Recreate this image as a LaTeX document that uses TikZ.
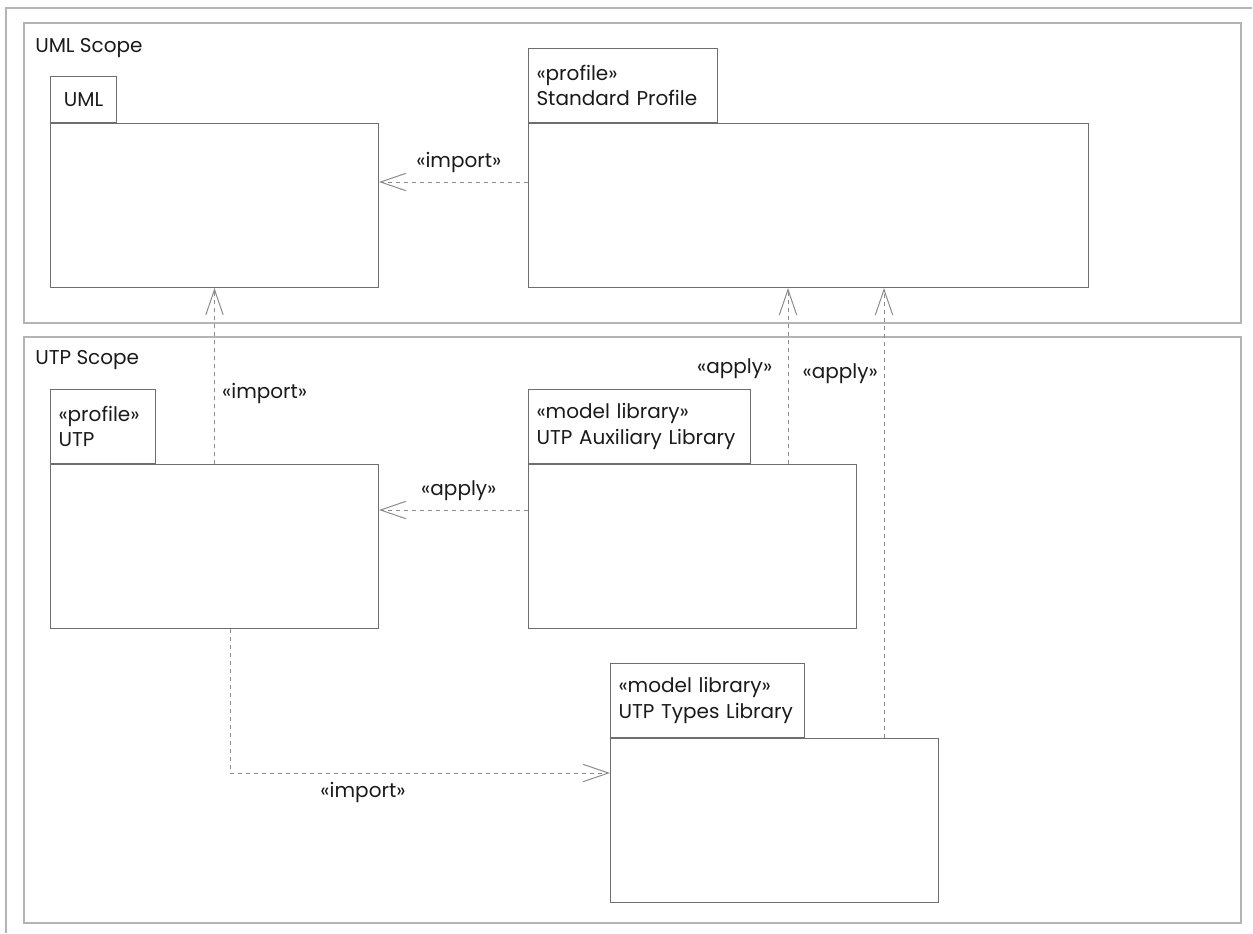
\documentclass[tikz,border=0pt]{standalone}
\usepackage{fontspec}
\setmainfont{Poppins}
\usetikzlibrary{arrows.meta,positioning}

\definecolor{framegray}{HTML}{B4B4B4}
\definecolor{boxgray}{HTML}{6E6E6E}
\definecolor{arrowgray}{HTML}{8C8C8C}
\definecolor{textgray}{HTML}{1A1A1A}

\begin{document}
\begin{tikzpicture}[
		x=0.75pt,
		y=-0.75pt,
		font=\fontsize{15}{19}\selectfont,
		text=textgray,
		scopebox/.style={
			draw=framegray,
			line width=1.5pt,
			anchor=north west,
			inner sep=0pt
		},
		body/.style={
			draw=boxgray,
			line width=0.75pt,
			anchor=north west,
			minimum width=246pt,
			minimum height=123pt,
			inner sep=0pt
		},
		tab/.style={
			draw=boxgray,
			line width=0.75pt,
			anchor=south west,
			minimum height=55.5pt,
			inner xsep=6pt,
			inner ysep=0pt,
			align=left,
			text width=#1
		},
		dep/.style={
			draw=arrowgray,
			line width=0.75pt,
			dash pattern=on 3pt off 3pt,
			-{Straight Barb[length=19pt,width=13pt]}
		}
		]
		\useasboundingbox (0,0) rectangle (1253,933);
		\draw[framegray,line width=1.1pt] (6,933) -- (6,8) -- (1252,8);
		
		\node[scopebox,minimum width=912.75pt,minimum height=225pt] (umlscope) at (23,22) {};
		\node[scopebox,minimum width=912.75pt,minimum height=439.5pt] (utpscope) at (23,336) {};
		\node[anchor=west,inner sep=0pt] (umllabel) at (35,48) {UML Scope};
		\node[anchor=west,inner sep=0pt] (utplabel) at (35,360) {UTP Scope};
		
		\node[body] (uml) at (50,123) {};
		\node[draw=boxgray,
			  line width=0.75pt,
			  anchor=south west,
			  minimum width=49.5pt,
			  minimum height=34.5pt] (umltab) at (uml.north west) {UML};
		
		\node[body,minimum width=420pt] (std) at (528,123) {};
		\node[tab=129.75pt] (stdtab) at (std.north west) {«profile»\\Standard Profile};
		
		\node[body] (utp) at (50,464) {};
		\node[tab=66.75pt] (utptab) at (utp.north west) {«profile»\\UTP};
		
		\node[body] (aux) at (528,464) {};
		\node[tab=154.5pt] (auxtab) at (aux.north west) {«model library»\\UTP Auxiliary Library};
		
		\node[body] (types) at (610,738) {};
		\node[tab=133.5pt] (typestab) at (types.north west) {«model library»\\UTP Types Library};
		
		\coordinate (importrow) at (0,182);
		\coordinate (applyrow) at (0,510);
		\coordinate (applycolA) at (788,0);
		\coordinate (applycolB) at (884,0);
		\coordinate (bend) at (230,773);
		
		\draw[dep] (importrow -| std.west) -- (importrow -| uml.east)
			node[midway,above=3pt,xshift=4pt]{«import»};
		\draw[dep] (utp.north) -- (uml.south)
			node[pos=0.4,right=2pt]{«import»};
		\draw[dep] (applyrow -| aux.west) -- (applyrow -| utp.east)
			node[midway,above=3pt,xshift=4pt]{«apply»};
		\draw[dep] (applycolA |- aux.north) -- (applycolA |- std.south)
			node[pos=0.54,left=8pt]{«apply»};
		\draw[dep] (applycolB |- types.north) -- (applycolB |- std.south)
			node[pos=0.81,left=1pt]{«apply»};
		\draw[dep] (bend |- utp.south) -- (bend) -- (bend -| types.west)
			node[pos=0.35,below=3pt]{«import»};
\end{tikzpicture}
\end{document}
